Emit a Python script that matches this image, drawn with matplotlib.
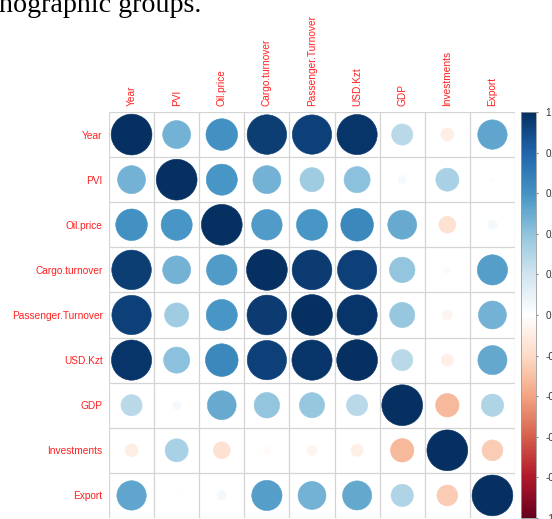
import numpy as np
import matplotlib
matplotlib.use("Agg")
import matplotlib.pyplot as plt
from matplotlib.colors import LinearSegmentedColormap, Normalize
from matplotlib.patches import Circle
from matplotlib.cm import ScalarMappable

labels = ["Year", "PVI", "Oil.price", "Cargo.turnover", "Passenger.Turnover",
          "USD.Kzt", "GDP", "Investments", "Export"]

corr_year = [1.00, 0.47, 0.60, 0.94, 0.93, 0.97, 0.27, -0.10, 0.52]
corr_pvi = [0.47, 1.00, 0.58, 0.47, 0.35, 0.41, 0.04, 0.32, 0.01]
corr_oil = [0.60, 0.58, 1.00, 0.56, 0.58, 0.64, 0.50, -0.17, 0.05]
corr_cargo = [0.94, 0.47, 0.56, 1.00, 0.95, 0.93, 0.39, -0.03, 0.55]
corr_pass = [0.93, 0.35, 0.58, 0.95, 1.00, 0.97, 0.38, -0.06, 0.47]
corr_usd = [0.97, 0.41, 0.64, 0.93, 0.97, 1.00, 0.27, -0.09, 0.51]
corr_gdp = [0.27, 0.04, 0.50, 0.39, 0.38, 0.27, 1.00, -0.33, 0.30]
corr_inv = [-0.10, 0.32, -0.17, -0.03, -0.06, -0.09, -0.33, 1.00, -0.26]
corr_export = [0.52, 0.01, 0.05, 0.55, 0.47, 0.51, 0.30, -0.26, 1.00]

cbar_ticks = [1, 0.8, 0.6, 0.4, 0.2, 0, -0.2, -0.4, -0.6, -0.8, -1]
cbar_ticklabels = ["1", "0.8", "0.6", "0.4", "0.2", "0", "-0.2", "-0.4", "-0.6", "-0.8", "-1"]

heading_text = "nographic groups."

corr = np.array([corr_year, corr_pvi, corr_oil, corr_cargo, corr_pass,
                 corr_usd, corr_gdp, corr_inv, corr_export])

col2 = ["#67001F", "#B2182B", "#D6604D", "#F4A582", "#FDDBC7", "#FFFFFF",
        "#D1E5F0", "#92C5DE", "#4393C3", "#2166AC", "#053061"]
cmap = LinearSegmentedColormap.from_list("corr", col2, N=200)
norm = Normalize(-1, 1)

W, H = 552, 519
fig = plt.figure(figsize=(W / 100, H / 100), dpi=100)
fig.patch.set_facecolor("white")

fig.text(-1 / W, 1 - 12 / H, heading_text, fontsize=20.2,
         family="Liberation Serif", color="black", va="baseline", ha="left")

n = len(labels)
gx0, gx1, gy0, gy1 = 109, 515, 112, 518
ax = fig.add_axes([gx0 / W, 1 - gy1 / H, (gx1 - gx0) / W, (gy1 - gy0) / H])
ax.set_xlim(-0.5, n - 0.5)
ax.set_ylim(n - 0.5, -0.5)
ax.set_aspect("auto")
for s in ax.spines.values():
    s.set_visible(False)

for k in range(n + 1):
    ax.axvline(k - 0.5, color="#d4d4d4", lw=0.9, zorder=1)
    ax.axhline(k - 0.5, color="#d4d4d4", lw=0.9, zorder=1)

for i in range(n):
    for j in range(n):
        v = corr[i, j]
        r = 0.452 * np.sqrt(abs(v))
        c = cmap(norm(v))
        ax.add_patch(Circle((j, i), r, facecolor=c, edgecolor=c, lw=0.4, zorder=2))

ax.set_xticks(range(n))
ax.set_yticks(range(n))
ax.xaxis.tick_top()
ax.set_xticklabels(labels, rotation=90, color="#ff2020", fontsize=7.3,
                   family="Liberation Sans")
ax.set_yticklabels(labels, color="#ff2020", fontsize=7.3, family="Liberation Sans")
ax.tick_params(axis="both", length=0, pad=4.5)

cax = fig.add_axes([521 / W, 1 - 518 / H, 15 / W, 406 / H])
cb = fig.colorbar(ScalarMappable(norm=norm, cmap=cmap), cax=cax)
cb.set_ticks(cbar_ticks)
cb.set_ticklabels(cbar_ticklabels)
cb.outline.set_edgecolor("#9a9a9a")
cb.outline.set_linewidth(0.6)
cax.tick_params(length=1.5, width=0.6, color="#666666", pad=5.5, labelsize=7.2,
                labelcolor="#333333")
for t in cax.get_yticklabels():
    t.set_family("Liberation Sans")

fig.savefig("out.png", dpi=100, facecolor="white")
